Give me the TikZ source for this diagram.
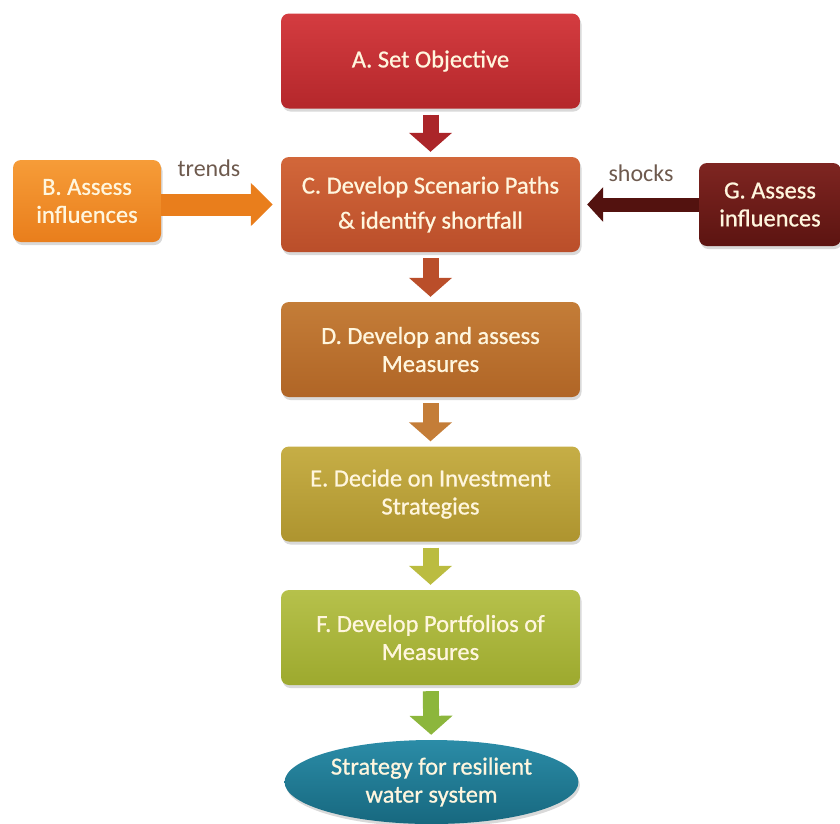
\documentclass[tikz,border=0pt]{standalone}
\usepackage{fontspec}
\setmainfont{Carlito}
\newfontfamily\boxfont[FakeBold=0.8]{Carlito}
\usetikzlibrary{arrows.meta,shadows,shapes.geometric,calc}
\definecolor{txt}{HTML}{FFF6DE}
\definecolor{lbl}{HTML}{6E5A4E}
\definecolor{aTop}{HTML}{D43C40}\definecolor{aBot}{HTML}{B4272B}
\definecolor{cTop}{HTML}{D2673A}\definecolor{cBot}{HTML}{BA4E2A}
\definecolor{bTop}{HTML}{F69C38}\definecolor{bBot}{HTML}{E97E1C}
\definecolor{gTop}{HTML}{7E2521}\definecolor{gBot}{HTML}{5C1411}
\definecolor{dTop}{HTML}{C47D38}\definecolor{dBot}{HTML}{B06526}
\definecolor{eTop}{HTML}{C6AE46}\definecolor{eBot}{HTML}{AE942F}
\definecolor{fTop}{HTML}{B6C14B}\definecolor{fBot}{HTML}{9DA92E}
\definecolor{hTop}{HTML}{2B8CA7}\definecolor{hBot}{HTML}{17687F}
\definecolor{arEF}{HTML}{BBBC40}
\definecolor{arFH}{HTML}{8CB63C}
\tikzset{
  box/.style={rounded corners=8pt, minimum width=299pt, minimum height=95pt,
    text=txt, align=center, font=\boxfont\fontsize{24.5}{28}\selectfont,
    drop shadow={opacity=0.3, shadow xshift=1.5pt, shadow yshift=-3pt}},
  vflow/.style={line width=16pt, shorten <=6pt, shorten >=5pt,
    -{Triangle[length=19pt,width=42pt]}},
  lab/.style={text=lbl, font=\fontsize{24}{28}\selectfont}
}
\begin{document}
\begin{tikzpicture}[x=1pt,y=-1pt]
\useasboundingbox (0,0) rectangle (840,823);
\node[box, top color=aTop, bottom color=aBot] (A) at (430.5,61) {A. Set Objective};
\node[box, top color=cTop, bottom color=cBot, font=\boxfont\fontsize{24.5}{35}\selectfont] (C) at (430.5,204.5) {C. Develop Scenario Paths\\\& identify shortfall};
\node[box, top color=dTop, bottom color=dBot] (D) at (430.5,349.5) {D. Develop and assess\\Measures};
\node[box, top color=eTop, bottom color=eBot] (E) at (430.5,494) {E. Decide on Investment\\Strategies};
\node[box, top color=fTop, bottom color=fBot] (F) at (430.5,637.5) {F. Develop Portfolios of\\Measures};
\node[box, top color=bTop, bottom color=bBot, minimum width=148pt, minimum height=82pt] (B) at (87,201) {B. Assess\\influences};
\node[box, top color=gTop, bottom color=gBot, minimum width=142pt, minimum height=83pt] (G) at (770,204.5) {G. Assess\\influences};
\node[ellipse, top color=hTop, bottom color=hBot, minimum width=293pt, minimum height=84pt,
  text=txt, align=center, font=\boxfont\fontsize{24.5}{28}\selectfont,
  drop shadow={opacity=0.3, shadow xshift=1.5pt, shadow yshift=-3pt}] (H) at (431.5,782) {Strategy for resilient\\water system};

\draw[vflow, draw=aBot!95!black, fill=aBot!95!black] (A) -- (C);
\draw[vflow, draw=cBot, fill=cBot] (C) -- (D);
\draw[vflow, draw=dTop, fill=dTop] (D) -- (E);
\draw[vflow, draw=arEF, fill=arEF] (E) -- (F);
\draw[vflow, draw=arFH, fill=arFH] (F) -- (H);

\coordinate (bs) at (B.east |- C.west);
\coordinate (gs) at (G.west |- C.east);
\draw[line width=22pt, draw=bBot, fill=bBot, shorten >=8pt,
  -{Triangle[length=22pt,width=42pt]}] (bs) -- (C.west);
\draw[line width=14pt, draw=gBot!90!black, fill=gBot!90!black, shorten >=7pt,
  -{Triangle[length=16pt,width=34pt]}] (gs) -- (C.east);
\node[lab] (tr) at (209,168) {trends};
\node[lab] (sh) at (641,173) {shocks};
\end{tikzpicture}
\end{document}
